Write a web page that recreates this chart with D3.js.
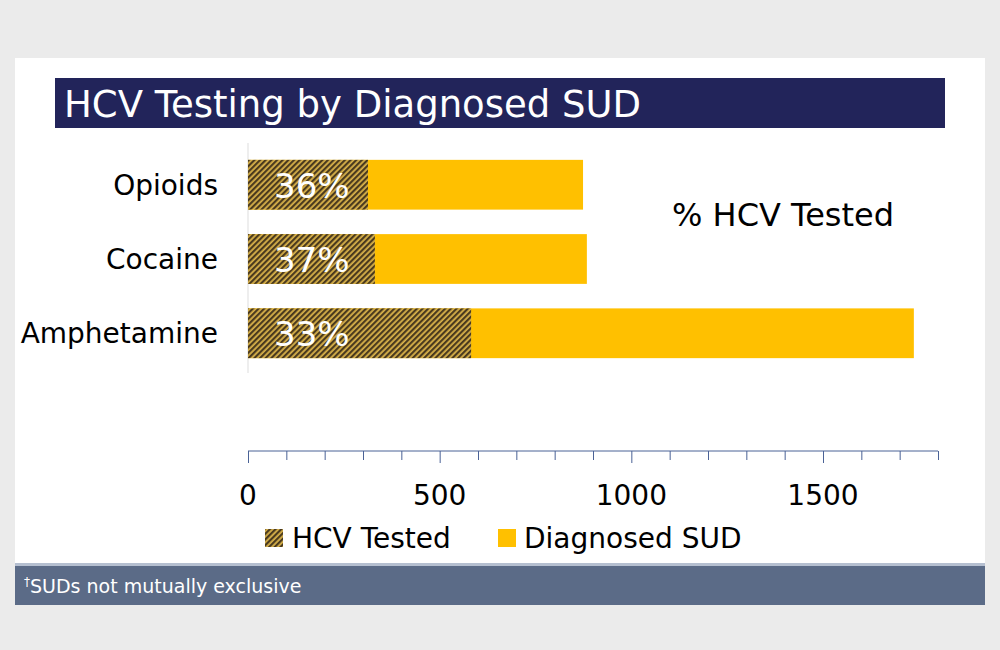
<!DOCTYPE html>
<html>
<head>
<meta charset="utf-8">
<script src="https://d3js.org/d3.v7.min.js"></script>
<style>body{margin:0;background:#ebebeb;font-family:"DejaVu Sans",sans-serif}</style>
</head>
<body>
<svg id="chart" width="1000" height="650"></svg>
<script>
var categories = ["Opioids", "Cocaine", "Amphetamine"]
var diagnosed = [874, 884, 1737]
var tested = [313, 331, 582]
var pctLabels = ["36%", "37%", "33%"]
var xTicks = [0, 500, 1000, 1500]

var svg = d3.select("#chart")
svg.append("rect").attr("width", 1000).attr("height", 650).attr("fill", "#ebebeb")
svg.append("rect").attr("x", 15).attr("y", 58).attr("width", 970).attr("height", 547).attr("fill", "#fff")

// hatch pattern
var pat = svg.append("defs").append("pattern").attr("id", "hatch")
  .attr("patternUnits", "userSpaceOnUse").attr("width", 4).attr("height", 4)
  .attr("patternTransform", "rotate(45)")
pat.append("rect").attr("width", 4).attr("height", 4).attr("fill", "#d9b24a")
pat.append("rect").attr("width", 2.2).attr("height", 4).attr("fill", "#4a3a1e")

// title bar
svg.append("rect").attr("x", 55).attr("y", 78).attr("width", 890).attr("height", 50).attr("fill", "#22245a")
svg.append("text").attr("x", 64).attr("y", 117).attr("fill", "#fff")
  .style("font-size", "37px").text("HCV Testing by Diagnosed SUD")

var x = d3.scaleLinear().domain([0, 1800]).range([248, 938])
var y = d3.scaleBand().domain(categories).range([145, 373]).paddingInner(0.33).paddingOuter(0.2)

svg.append("line").attr("x1", 248).attr("x2", 248).attr("y1", 143).attr("y2", 373).attr("stroke", "#ddd")

var g = svg.selectAll(".bar").data(categories).enter().append("g")
g.append("rect").attr("x", x(0)).attr("y", d => y(d)).attr("height", y.bandwidth())
  .attr("width", (d, i) => x(diagnosed[i]) - x(0)).attr("fill", "#ffc000")
g.append("rect").attr("x", x(0)).attr("y", d => y(d)).attr("height", y.bandwidth())
  .attr("width", (d, i) => x(tested[i]) - x(0)).attr("fill", "url(#hatch)")
g.append("text").attr("x", x(0) + 26).attr("y", d => y(d) + y.bandwidth() / 2 + 13)
  .attr("fill", "#fff").style("font-size", "34px").text((d, i) => pctLabels[i])
g.append("text").attr("x", 218).attr("y", d => y(d) + y.bandwidth() / 2 + 10)
  .attr("text-anchor", "end").attr("fill", "#000").style("font-size", "28px").text(d => d)

svg.append("text").attr("x", 672).attr("y", 226).style("font-size", "32px").text("% HCV Tested")

// x axis
var axis = svg.append("g").attr("transform", "translate(0,451)")
  .call(d3.axisBottom(x).tickValues(d3.range(0, 1801, 100)).tickSize(10).tickFormat(""))
axis.select(".domain").attr("stroke", "#4a6296").attr("d", "M248,0H938")
axis.selectAll(".tick line").attr("stroke", "#4a6296")
  .attr("y2", d => d % 500 === 0 ? 12 : 9)
svg.selectAll(".xl").data(xTicks).enter().append("text")
  .attr("x", d => x(d)).attr("y", 505).attr("text-anchor", "middle")
  .style("font-size", "28px").text(d => d)

// legend
svg.append("rect").attr("x", 265).attr("y", 529).attr("width", 18).attr("height", 18).attr("fill", "url(#hatch)")
svg.append("text").attr("x", 292).attr("y", 548).style("font-size", "28px").text("HCV Tested")
svg.append("rect").attr("x", 498).attr("y", 529).attr("width", 18).attr("height", 18).attr("fill", "#ffc000")
svg.append("text").attr("x", 524).attr("y", 548).style("font-size", "28px").text("Diagnosed SUD")

// footer
svg.append("rect").attr("x", 15).attr("y", 563).attr("width", 970).attr("height", 3).attr("fill", "#b5bfd0")
svg.append("rect").attr("x", 15).attr("y", 566).attr("width", 970).attr("height", 39).attr("fill", "#5b6b87")
var ft = svg.append("text").attr("x", 24).attr("y", 593).attr("fill", "#fff").style("font-size", "19px")
ft.append("tspan").attr("dy", -7).style("font-size", "12px").text("†")
ft.append("tspan").attr("dy", 7).text("SUDs not mutually exclusive")
</script>
</body>
</html>
